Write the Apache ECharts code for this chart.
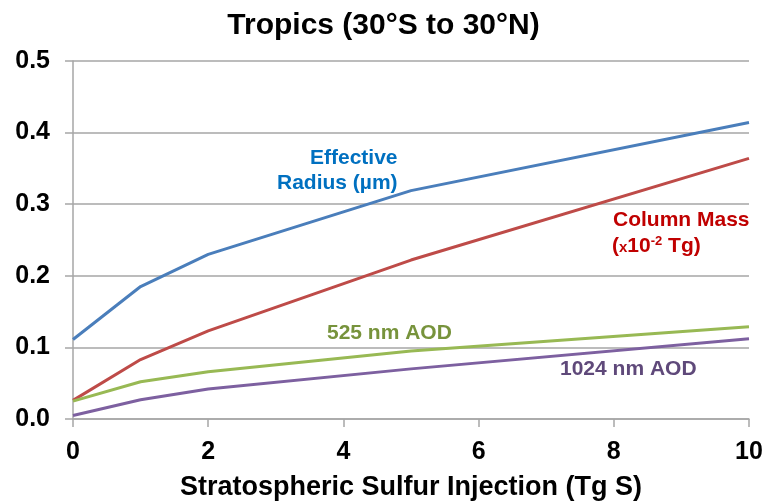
<!DOCTYPE html>
<html>
<head>
<meta charset="utf-8">
<script src="https://cdn.jsdelivr.net/npm/echarts@6/dist/echarts.min.js"></script>
<style>
  html, body { margin: 0; padding: 0; background: #fff; }
  #chart { width: 767px; height: 503px; }
</style>
</head>
<body>
<div id="chart"></div>
<script>
// injection amounts (Tg S)
const injection = [0, 1, 2, 5, 10];

const effectiveRadius = [0.111, 0.185, 0.230, 0.319, 0.414];
const columnMass = [0.026, 0.083, 0.123, 0.222, 0.364];
const aod525 = [0.025, 0.052, 0.066, 0.095, 0.129];
const aod1024 = [0.005, 0.027, 0.042, 0.070, 0.112];

const font = 'Liberation Sans, Arial, sans-serif';

function pairs(ys) {
    return injection.map(function (x, i) { return [x, ys[i]]; });
}

function line(name, ys, color) {
    return {
        name: name,
        type: 'line',
        data: pairs(ys),
        symbol: 'none',
        lineStyle: { color: color, width: 3 },
        animation: false
    };
}

let option = {
    title: {
        text: 'Tropics (30°S to 30°N)',
        left: 'center',
        top: 6,
        textStyle: {
            fontFamily: font,
            fontWeight: 'bold',
            fontSize: 30,
            color: '#000'
        }
    },
    grid: {
        left: 73,
        right: 18,
        top: 61,
        bottom: 84,
        containLabel: false,
        outerBoundsMode: 'none'
    },
    xAxis: {
        type: 'value',
        min: 0,
        max: 10,
        interval: 2,
        name: 'Stratospheric Sulfur Injection (Tg S)',
        nameLocation: 'middle',
        nameGap: 55,
        nameTextStyle: { fontFamily: font, fontWeight: 'bold', fontSize: 27, color: '#000' },
        axisLine: { lineStyle: { color: '#a6a6a6', width: 1.5 } },
        axisTick: { show: true, length: 8, lineStyle: { color: '#a6a6a6', width: 1.5 } },
        axisLabel: { fontFamily: font, fontWeight: 'bold', fontSize: 25, color: '#000', margin: 21 },
        splitLine: { show: false }
    },
    yAxis: {
        type: 'value',
        min: 0,
        max: 0.5,
        interval: 0.1,
        axisLine: { show: true, lineStyle: { color: '#a6a6a6', width: 1.5 } },
        axisTick: { show: true, length: 8, lineStyle: { color: '#a6a6a6', width: 1.5 } },
        axisLabel: {
            fontFamily: font, fontWeight: 'bold', fontSize: 25, color: '#000', margin: 23,
            formatter: function (v) { return v.toFixed(1); }
        },
        splitLine: { lineStyle: { color: '#a6a6a6', width: 1.5 } }
    },
    graphic: [
        {
            type: 'text', left: 310, top: 148,
            style: { text: 'Effective', fill: '#0070C0', font: 'bold 21px ' + font }
        },
        {
            type: 'text', left: 277, top: 173,
            style: { text: 'Radius (µm)', fill: '#0070C0', font: 'bold 21px ' + font }
        },
        {
            type: 'text', left: 613, top: 210,
            style: { text: 'Column Mass', fill: '#C00000', font: 'bold 21px ' + font }
        },
        {
            type: 'text', left: 612, top: 235,
            style: {
                text: '{a|(}{s|x}{a|10}{sup|-2}{a| Tg)}',
                rich: {
                    a: { fill: '#C00000', font: 'bold 21px ' + font },
                    s: { fill: '#C00000', font: 'bold 15px ' + font, padding: [4, 0, 0, 0] },
                    sup: { fill: '#C00000', font: 'bold 13px ' + font, padding: [0, 0, 9, 0] }
                }
            }
        },
        {
            type: 'text', left: 327, top: 323,
            style: { text: '525 nm AOD', fill: '#77933C', font: 'bold 21px ' + font }
        },
        {
            type: 'text', left: 560, top: 359,
            style: { text: '1024 nm AOD', fill: '#5F497A', font: 'bold 21px ' + font }
        }
    ],
    series: [
        line('Effective Radius', effectiveRadius, '#4A7EBB'),
        line('Column Mass', columnMass, '#BE4B48'),
        line('525 nm AOD', aod525, '#98B954'),
        line('1024 nm AOD', aod1024, '#7D60A0')
    ]
};

let myChart = echarts.init(document.getElementById('chart'));
myChart.setOption(option);
</script>
</body>
</html>
